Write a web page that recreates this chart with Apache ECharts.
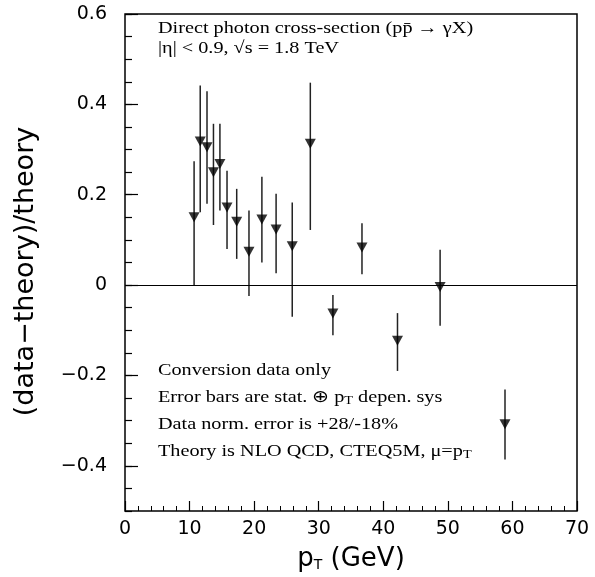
<!DOCTYPE html>
<html>
<head>
<meta charset="utf-8">
<script src="https://cdn.jsdelivr.net/npm/echarts@6/dist/echarts.min.js"></script>
<style>
html,body{margin:0;padding:0;background:#fff;}
#c{width:595px;height:577px;}
</style>
</head>
<body>
<div id="c"></div>
<script>
// ---- data ----
const pT      = [10.7, 11.65, 12.7, 13.7, 14.7, 15.8, 17.3, 19.2, 21.2, 23.4, 25.9, 28.7, 32.2, 36.7, 42.2, 48.8, 58.85];
const ratio   = [0.150, 0.318, 0.305, 0.250, 0.268, 0.172, 0.140, 0.074, 0.145, 0.123, 0.086, 0.313, -0.063, 0.083, -0.123, -0.004, -0.308];
const errHigh = [0.274, 0.442, 0.429, 0.357, 0.357, 0.253, 0.213, 0.165, 0.240, 0.202, 0.183, 0.448, -0.022, 0.137, -0.062, 0.078, -0.231];
const errLow  = [0.000, 0.161, 0.180, 0.133, 0.165, 0.080, 0.058, -0.024, 0.050, 0.026, -0.070, 0.122, -0.111, 0.024, -0.190, -0.090, -0.386];
const yMajorTicks = [-0.4, -0.2, 0, 0.2, 0.4, 0.6];
const headerLines = [
  '{m|Direct photon cross-section (pp\u0304 \u2192 \u03b3X)}',
  '{m|\u007c\u03b7\u007c < 0.9, \u221as = 1.8 TeV}'
];
const noteLines = [
  '{m|Conversion data only}',
  '{m|Error bars are stat. \u2295 p}{s|T}{m| depen. sys}',
  '{m|Data norm. error is +28/-18%}',
  '{m|Theory is NLO QCD, CTEQ5M, \u03bc=p}{s|T}'
];

const points = pT.map((x, i) => [x, ratio[i]]);
const bars = pT.map((x, i) => [x, errLow[i], errHigh[i]]);

const axisFont = {fontFamily: 'DejaVu Sans', fontSize: 19, color: '#000'};
const serifRich = {
  m: {fontFamily: 'Liberation Serif', fontSize: 17, lineHeight: 21, verticalAlign: 'bottom', fill: '#000'},
  s: {fontFamily: 'Liberation Serif', fontSize: 12, lineHeight: 15, verticalAlign: 'bottom', fill: '#000'}
};
function textEl(txt, y) {
  return {type: 'text', x: 158, y: y, scaleX: 1.19, z: 10,
          style: {text: txt, rich: serifRich, verticalAlign: 'middle', align: 'left', fill: '#000'}};
}

const chart = echarts.init(document.getElementById('c'), null, {renderer: 'canvas'});
chart.setOption({
  animation: false,
  backgroundColor: '#fff',
  grid: {left: 125, right: 18, top: 14, bottom: 66, show: true, borderColor: '#000', borderWidth: 1.5, backgroundColor: 'transparent'},
  xAxis: {
    type: 'value', min: 0, max: 70, interval: 10,
    axisLine: {show: false, onZero: false},
    axisTick: {show: true, inside: true, length: 10, lineStyle: {color: '#000', width: 1.2}},
    minorTick: {show: true, splitNumber: 5, length: 5, lineStyle: {color: '#000', width: 1}},
    splitLine: {show: false},
    axisLabel: Object.assign({margin: 9}, axisFont),
    name: '{m|p}{s|T}{m| (GeV)}',
    nameLocation: 'middle', nameGap: 31,
    nameTextStyle: {rich: {
      m: {fontFamily: 'DejaVu Sans', fontSize: 26, color: '#000', lineHeight: 30, verticalAlign: 'bottom'},
      s: {fontFamily: 'DejaVu Sans', fontSize: 14, color: '#000', lineHeight: 20, verticalAlign: 'bottom'}
    }}
  },
  yAxis: [
    {
      type: 'value', min: -0.5, max: 0.6, interval: 0.05,
      axisLine: {show: false, onZero: false},
      axisTick: {show: true, inside: true, length: 7, lineStyle: {color: '#000', width: 1.2}},
      axisLabel: {show: false},
      splitLine: {show: false}
    },
    {
      type: 'value', min: -0.5, max: 0.6, interval: 0.05, position: 'left',
      axisLine: {show: false, onZero: false},
      axisTick: {show: true, inside: true, length: 13, customValues: yMajorTicks, lineStyle: {color: '#000', width: 1.2}},
      axisLabel: Object.assign({margin: 18, customValues: yMajorTicks,
        formatter: v => (Math.abs(v) < 1e-9 ? '0' : v.toFixed(1).replace('-', '\u2212'))}, axisFont),
      splitLine: {show: false},
      name: '(data\u2212theory)/theory',
      nameLocation: 'middle', nameGap: 86,
      nameTextStyle: {fontFamily: 'DejaVu Sans', fontSize: 27, color: '#000', padding: [0, 18, 0, 0]}
    }
  ],
  graphic: [
    textEl(headerLines[0], 27),
    textEl(headerLines[1], 47),
    textEl(noteLines[0], 369),
    textEl(noteLines[1], 396),
    textEl(noteLines[2], 423),
    textEl(noteLines[3], 450)
  ],
  series: [
    {
      type: 'custom', yAxisIndex: 0, data: bars, z: 3,
      renderItem: (params, api) => {
        const a = api.coord([api.value(0), api.value(1)]);
        const b = api.coord([api.value(0), api.value(2)]);
        return {type: 'line', shape: {x1: a[0], y1: a[1], x2: b[0], y2: b[1]},
                style: {stroke: '#222', lineWidth: 1.5}};
      }
    },
    {
      type: 'scatter', yAxisIndex: 0, data: points, z: 4,
      symbol: 'triangle', symbolRotate: 180, symbolSize: [11, 10],
      itemStyle: {color: '#000'},
      markLine: {silent: true, symbol: 'none', label: {show: false},
        lineStyle: {color: '#000', width: 1.2, type: 'solid'},
        data: [{yAxis: 0}]}
    }
  ]
});
</script>
</body>
</html>
